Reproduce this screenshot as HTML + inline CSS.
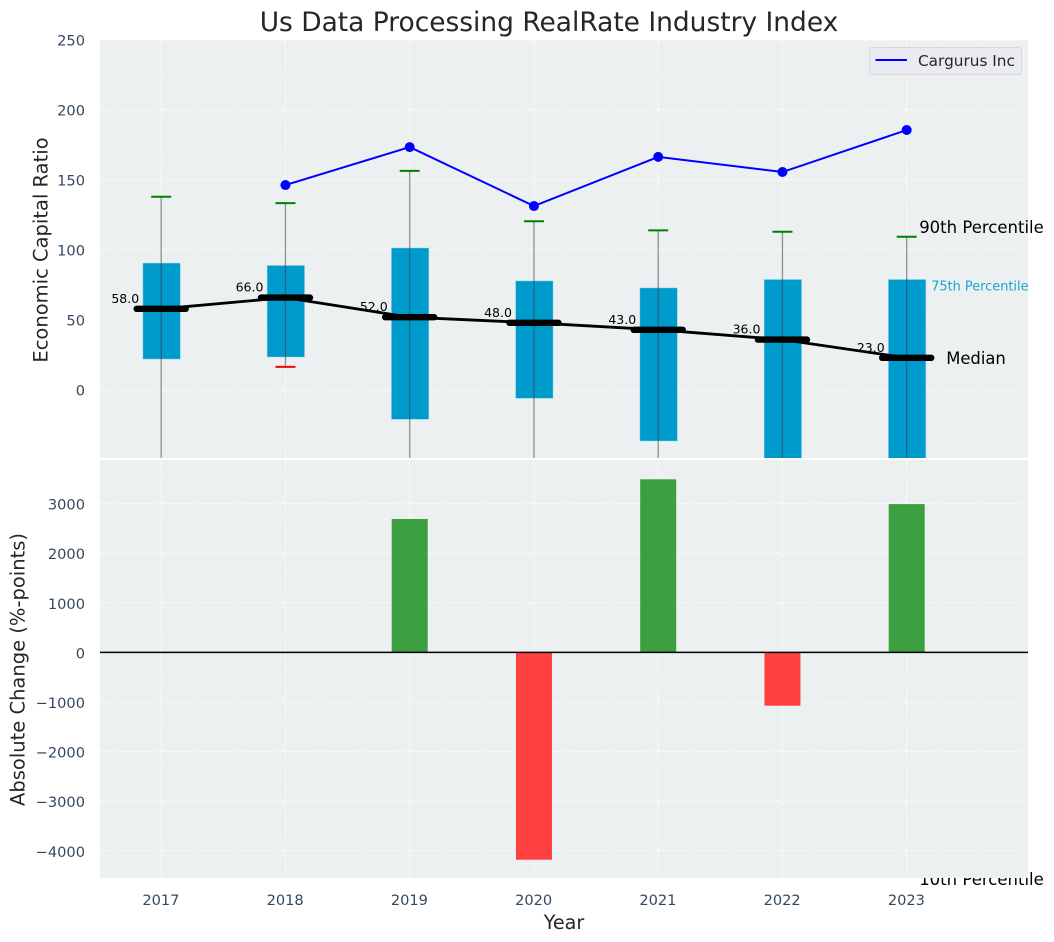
<!DOCTYPE html>
<html>
<head>
<meta charset="utf-8">
<title>Us Data Processing RealRate Industry Index</title>
<style>
html,body{margin:0;padding:0;background:#fff;width:1054px;height:942px;overflow:hidden}
svg{display:block;position:absolute;left:0;top:0}
text{font-family:"DejaVu Sans","Liberation Sans",sans-serif}
</style>
</head>
<body>
<svg id="chart" width="1054" height="942" viewBox="0 0 1054 942" xmlns="http://www.w3.org/2000/svg">
  <defs>
    <clipPath id="clip-top"><rect x="100" y="40" width="928" height="418"></rect></clipPath>
    <clipPath id="clip-bottom"><rect x="100" y="460" width="928" height="418"></rect></clipPath>
  </defs>
</svg>
<script>
const years = [2017, 2018, 2019, 2020, 2021, 2022, 2023];
const p90 = [138, 133.5, 156.5, 120.5, 114, 113, 109.5];
const p75 = [90.7, 89, 101.5, 78, 73, 79, 79];
const medians = [58, 66, 52, 48, 43, 36, 23];
const p25 = [22, 23.5, -21, -6, -36.5, -70, -75];
const p10 = [-90, 16.5, -110, -100, -120, -130, -135];
const companyYears = [2018, 2019, 2020, 2021, 2022, 2023];
const companyValues = [146.4, 173.5, 131.4, 166.5, 155.7, 185.7];
const changeYears = [2019, 2020, 2021, 2022, 2023];
const changeValues = [2690, -4180, 3490, -1075, 2990];
const topTicks = [0, 50, 100, 150, 200, 250];
const bottomTicks = [-4000, -3000, -2000, -1000, 0, 1000, 2000, 3000];

const svg = document.getElementById('chart');
const NS = 'http://www.w3.org/2000/svg';
const xScale = y => 161.2 + (y - 2017) * 124.25;
const yTop = v => 390 - v * 1.4;
const yBottom = v => 652.4 - v * 0.0496;

function mk(parent, tag, attrs, txt) {
  const el = document.createElementNS(NS, tag);
  for (const k in attrs) el.setAttribute(k, attrs[k]);
  if (txt !== undefined) el.textContent = txt;
  parent.appendChild(el);
  return el;
}
function group(clip) {
  const g = document.createElementNS(NS, 'g');
  if (clip) g.setAttribute('clip-path', 'url(#' + clip + ')');
  svg.appendChild(g);
  return g;
}
const GRID = {stroke: '#ffffff', 'stroke-opacity': 0.7, 'stroke-width': 1.1, 'stroke-dasharray': '4.5 2.2'};
let el;

/* ---------- top axes ---------- */
el = mk(svg, 'rect', {x: 100, y: 40, width: 928, height: 418, fill: '#ecf0f1'});



const topG = group('clip-top');



years.forEach(y => {
  const line = mk(topG, 'line', Object.assign({x1: xScale(y), x2: xScale(y), y1: 40, y2: 458}, GRID));
  
  
});
topTicks.forEach(t => {
  const line = mk(topG, 'line', Object.assign({x1: 100, x2: 1028, y1: yTop(t), y2: yTop(t)}, GRID));
  
  
});

years.forEach((y, i) => {
  const box = mk(topG, 'rect', {
    x: xScale(y) - 18.4, y: yTop(p75[i]), width: 37.6,
    height: yTop(p25[i]) - yTop(p75[i]),
    fill: '#009bcd', stroke: '#bfe6f2', 'stroke-opacity': 0.6, 'stroke-width': 0.8
  });
  
  

  const whisker = mk(topG, 'line', {
    x1: xScale(y), x2: xScale(y), y1: yTop(p90[i]), y2: yTop(p10[i]),
    stroke: '#3a3a3a', 'stroke-opacity': 0.55, 'stroke-width': 1.3
  });
  
  

  const capHigh = mk(topG, 'line', {
    x1: xScale(y) - 10, x2: xScale(y) + 10, y1: yTop(p90[i]), y2: yTop(p90[i]),
    stroke: '#008000', 'stroke-width': 2
  });
  
  

  const capLow = mk(topG, 'line', {
    x1: xScale(y) - 10, x2: xScale(y) + 10, y1: yTop(p10[i]), y2: yTop(p10[i]),
    stroke: '#ff0000', 'stroke-width': 2
  });
  
  
});

const medianLine = mk(topG, 'polyline', {
  points: years.map((y, i) => xScale(y) + ',' + yTop(medians[i])).join(' '),
  fill: 'none', stroke: '#000', 'stroke-width': 2.8
});



years.forEach((y, i) => {
  const bar = mk(topG, 'line', {
    x1: xScale(y) - 24.5, x2: xScale(y) + 24.5, y1: yTop(medians[i]), y2: yTop(medians[i]),
    stroke: '#000', 'stroke-width': 6.4, 'stroke-linecap': 'round'
  });
  
  
});

const companyLine = mk(topG, 'polyline', {
  points: companyYears.map((y, i) => xScale(y) + ',' + yTop(companyValues[i])).join(' '),
  fill: 'none', stroke: '#0000ff', 'stroke-width': 2
});



companyYears.forEach((y, i) => {
  const dot = mk(topG, 'circle', {cx: xScale(y), cy: yTop(companyValues[i]), r: 5, fill: '#0000ff'});
  
  
});

/* median value labels */
years.forEach((y, i) => {
  const t = mk(svg, 'text', {
    x: xScale(y) - 22, y: yTop(medians[i]) - 6, 'text-anchor': 'end',
    'font-size': 12.5, fill: '#000'
  }, medians[i].toFixed(1));
  
  
});

/* percentile annotations anchored on the final year */
const lastX = xScale(2023);
const lastI = years.length - 1;
el = mk(svg, 'text', {x: lastX + 12.5, y: yTop(p90[lastI]) - 3.5, 'font-size': 16.5, fill: '#000'}, '90th Percentile');


el = mk(svg, 'text', {x: lastX + 24.5, y: yTop(p75[lastI]) + 11, 'font-size': 12.9, fill: '#1ba5d2'}, '75th Percentile');


el = mk(svg, 'text', {x: lastX + 39.5, y: yTop(medians[lastI]) + 6, 'font-size': 16.4, fill: '#000'}, 'Median');


el = mk(svg, 'text', {x: lastX + 12.5, y: 885, 'font-size': 16.5, fill: '#000'}, '10th Percentile');



/* legend */
const legend = group();


el = mk(legend, 'rect', {x: 869.5, y: 47.5, width: 152, height: 27, rx: 2.5, fill: '#eaeaf2', 'fill-opacity': 0.85, stroke: '#d8d8d8', 'stroke-width': 1});


el = mk(legend, 'line', {x1: 875.5, x2: 907, y1: 60, y2: 60, stroke: '#0000ff', 'stroke-width': 2});


el = mk(legend, 'text', {x: 918, y: 66, 'font-size': 15.3, fill: '#262626'}, 'Cargurus Inc');



/* ---------- bottom axes (paints over the clipped 10th percentile label) ---------- */
el = mk(svg, 'rect', {x: 100, y: 460, width: 928, height: 418, fill: '#ecf0f1'});



const botG = group('clip-bottom');



years.forEach(y => {
  const line = mk(botG, 'line', Object.assign({x1: xScale(y), x2: xScale(y), y1: 460, y2: 878}, GRID));
  
  
});
bottomTicks.forEach(t => {
  const line = mk(botG, 'line', Object.assign({x1: 100, x2: 1028, y1: yBottom(t), y2: yBottom(t)}, GRID));
  
  
});
changeYears.forEach((y, i) => {
  const v = changeValues[i];
  const top = Math.min(yBottom(v), yBottom(0));
  const bar = mk(botG, 'rect', {
    x: xScale(y) - 18, y: top, width: 36,
    height: Math.abs(yBottom(v) - yBottom(0)),
    fill: v >= 0 ? '#3c9f40' : '#ff4040'
  });
  
  
});
el = mk(botG, 'line', {x1: 100, x2: 1028, y1: yBottom(0), y2: yBottom(0), stroke: '#000', 'stroke-width': 1.5});



/* ---------- ticks and titles ---------- */
const TICK = '#34495e';
topTicks.forEach(t => {
  const lab = mk(svg, 'text', {x: 85, y: yTop(t) + 5.4, 'text-anchor': 'end', 'font-size': 14.6, fill: TICK}, String(t));
  
  
});
bottomTicks.forEach(t => {
  const lab = mk(svg, 'text', {x: 85, y: yBottom(t) + 6, 'text-anchor': 'end', 'font-size': 14.6, fill: TICK}, String(t).replace('-', '\u2212'));
  
  
});
years.forEach(y => {
  const lab = mk(svg, 'text', {x: xScale(y) - 0.3, y: 905, 'text-anchor': 'middle', 'font-size': 14.6, fill: TICK}, String(y));
  
  
});
el = mk(svg, 'text', {x: 549, y: 31, 'text-anchor': 'middle', 'font-size': 26.45, fill: '#262626'}, 'Us Data Processing RealRate Industry Index');


el = mk(svg, 'text', {x: 564, y: 929, 'text-anchor': 'middle', 'font-size': 19.2, fill: '#262626'}, 'Year');


el = mk(svg, 'text', {transform: 'translate(47.5,250) rotate(-90)', 'text-anchor': 'middle', 'font-size': 19.5, fill: '#262626'}, 'Economic Capital Ratio');


el = mk(svg, 'text', {transform: 'translate(24.5,669.5) rotate(-90)', 'text-anchor': 'middle', 'font-size': 19.5, fill: '#262626'}, 'Absolute Change (%-points)');


</script>
</body>
</html>
